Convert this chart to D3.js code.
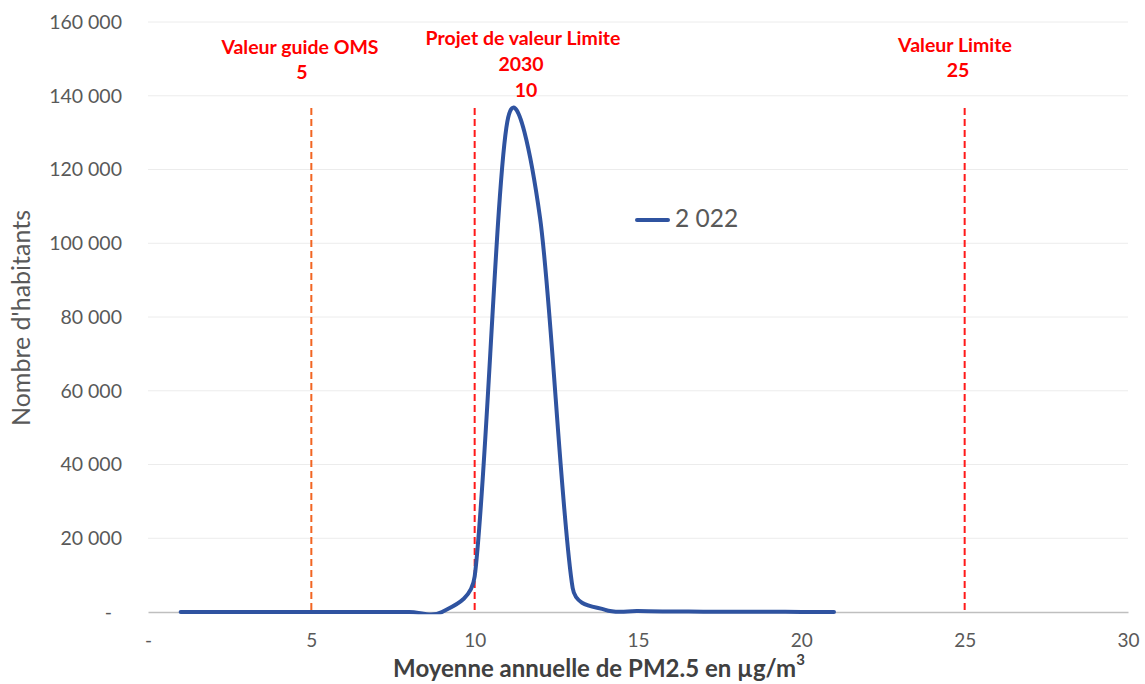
<!DOCTYPE html>
<html><head><meta charset="utf-8">
<script src="https://cdn.jsdelivr.net/npm/d3@7"></script>
<style>body{margin:0;background:#fff;} svg{display:block;}</style>
</head><body>
<svg id="c" width="1145" height="684"></svg>
<script>
// PM2.5 annual mean (µg/m³) and number of inhabitants
const pm = [1,2,3,4,5,6,7,8,9,10,11,12,13,14,15,16,17,18,19,20,21];
const habitants = [0,0,0,0,0,0,0,0,0,9600,133000,107000,6500,600,250,150,100,80,50,30,10];
const seriesName = "2 022";
const xTicks = [0,5,10,15,20,25,30];
const yTicks = [0,20000,40000,60000,80000,100000,120000,140000,160000];
const refValues = [5,10,25];
const refColors = ["#f26522","#ff1a1a","#ff1a1a"];
const refLabels = [["Valeur guide OMS","5"],["Projet de valeur Limite","2030","10"],["Valeur Limite","25"]];

const svg = d3.select("#c");
const x = d3.scaleLinear().domain([0,30]).range([148,1128]);
const y = d3.scaleLinear().domain([0,160000]).range([612,22]);
const fmt = v => v === 0 ? "-" : d3.format(",")(v).replace(/,/g," ");
const font = "Lato, 'Open Sans', sans-serif";

// Excel-like smoothed line as a d3 curve
function ExcelCurve(context){ this._context = context; }
ExcelCurve.prototype = {
  areaStart(){ this._line = 0; }, areaEnd(){ this._line = NaN; },
  lineStart(){ this._pts = []; },
  point(px,py){ this._pts.push([+px,+py]); },
  lineEnd(){
    const p = this._pts, n = p.length, c = this._context;
    if (!n) return;
    const dist = (a,b) => Math.hypot(b[0]-a[0], b[1]-a[1]);
    c.moveTo(p[0][0], p[0][1]);
    for (let i = 0; i < n-1; i++){
      const p0 = p[Math.max(i-1,0)], p1 = p[i], p2 = p[i+1], p3 = p[Math.min(i+2,n-1)];
      const d12 = dist(p1,p2), d02 = dist(p0,p2), d13 = dist(p1,p3);
      const f0 = (d02/6 < d12/2) ? 1/6 : d12/d02/2;
      const f1 = (d13/6 < d12/2) ? 1/6 : d12/d13/2;
      c.bezierCurveTo(p1[0]+(p2[0]-p0[0])*f0, p1[1]+(p2[1]-p0[1])*f0,
                      p2[0]-(p3[0]-p1[0])*f1, p2[1]-(p3[1]-p1[1])*f1,
                      p2[0], p2[1]);
    }
  }
};
const excelCurve = ctx => new ExcelCurve(ctx);

svg.append("defs").append("clipPath").attr("id","plotclip")
  .append("rect").attr("x",0).attr("y",0).attr("width",1145).attr("height",y(0)+2.2);

// gridlines
svg.append("g").selectAll("line").data(yTicks.slice(1)).join("line")
  .attr("x1", x(0)).attr("x2", x(30)).attr("y1", d=>y(d)).attr("y2", d=>y(d))
  .attr("stroke","#ececec").attr("stroke-width",1);

// y axis
const ya = svg.append("g").attr("transform","translate(122,0)")
  .call(d3.axisLeft(y).tickValues(yTicks).tickFormat(fmt).tickSize(0).tickPadding(0));
ya.select(".domain").remove();
ya.selectAll("text").attr("font-family",font).attr("font-size",19.5).attr("fill","#595959")
  .attr("dx", d => d === 0 ? -10 : 0);

// x axis
const xa = svg.append("g").attr("transform","translate(0,612)")
  .call(d3.axisBottom(x).tickValues(xTicks).tickFormat(fmt).tickSize(0).tickPadding(22));
xa.select(".domain").attr("stroke","#bfbfbf").attr("stroke-width",1.5);
xa.selectAll("text").attr("font-family",font).attr("font-size",19).attr("fill","#595959");

// reference lines
svg.append("g").selectAll("line").data(refValues).join("line")
  .attr("x1", d=>x(d)).attr("x2", d=>x(d)).attr("y1", 108).attr("y2", y(0))
  .attr("stroke",(d,i)=>refColors[i]).attr("stroke-width",2).attr("stroke-dasharray","7,4");

// reference labels
const labelPos = [[[300,49],[302,74]],[[523,40],[521,66],[526,92]],[[955,47],[958,72]]];
const lg = svg.append("g");
refLabels.forEach((ls,i)=>{
  lg.selectAll(null).data(ls).join("text")
    .attr("x", (d,j) => labelPos[i][j][0])
    .attr("y", (d,j) => labelPos[i][j][1])
    .attr("text-anchor","middle").attr("dominant-baseline","middle")
    .attr("font-family",font).attr("font-weight","bold").attr("font-size",19.5)
    .attr("fill","#ff0000").text(d=>d);
});

// series line
const data = pm.map((v,i)=>[v, habitants[i]]);
svg.append("path").datum(data)
  .attr("clip-path","url(#plotclip)")
  .attr("d", d3.line().x(d=>x(d[0])).y(d=>y(d[1])).curve(excelCurve))
  .attr("fill","none").attr("stroke","#2f53a0").attr("stroke-width",4).attr("stroke-linejoin","round").attr("stroke-linecap","round");

// legend
svg.append("line").attr("x1",637).attr("x2",668).attr("y1",220).attr("y2",220)
  .attr("stroke","#2f53a0").attr("stroke-width",4).attr("stroke-linecap","round");
svg.append("text").attr("x",675).attr("y",221).attr("dominant-baseline","middle")
  .attr("font-family",font).attr("font-size",24.5).attr("fill","#595959").text(seriesName);

// axis titles
svg.append("text").attr("transform","translate(24,318) rotate(-90)")
  .attr("text-anchor","middle").attr("dominant-baseline","middle")
  .attr("font-family",font).attr("font-size",25).attr("fill","#595959").text("Nombre d'habitants");
const xt = svg.append("text").attr("x",599).attr("y",671).attr("text-anchor","middle").attr("dominant-baseline","middle")
  .attr("font-family",font).attr("font-weight","bold").attr("font-size",24).attr("fill","#404040");
xt.append("tspan").text("Moyenne annuelle de PM2.5 en µg/m");
xt.append("tspan").attr("font-size",15).attr("dy",-10).text("3");
</script>
</body></html>
